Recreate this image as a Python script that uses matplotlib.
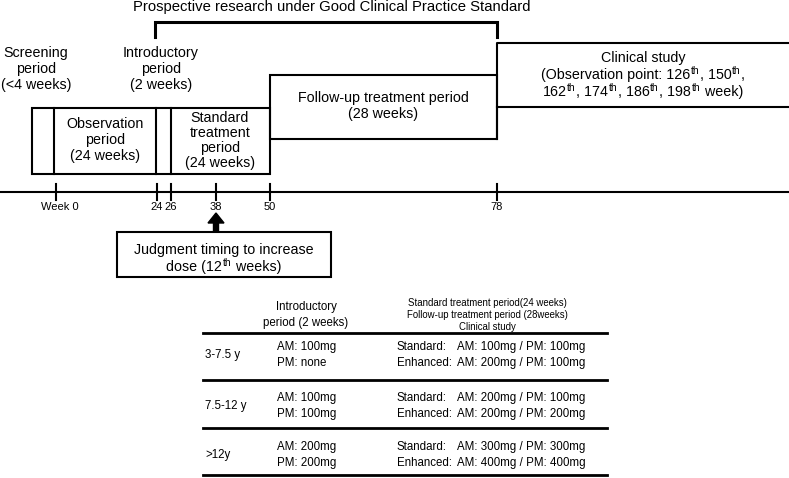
import matplotlib
matplotlib.use("Agg")
import matplotlib.pyplot as plt
from matplotlib.patches import Rectangle

plt.rcParams['font.family'] = ['Liberation Sans', 'DejaVu Sans']

# ---- data ----
tick_labels = ["Week 0", "24", "26", "38", "50", "78"]
tick_x = [56, 157, 171, 216, 270, 497]
label_dx = [4, 0, 0, 0, 0, 0]

title_text = "Prospective research under Good Clinical Practice Standard"
screening_text = "Screening\nperiod\n(<4 weeks)"
intro_text = "Introductory\nperiod\n(2 weeks)"
observation_text = "Observation\nperiod\n(24 weeks)"
standard_text = "Standard\ntreatment\nperiod\n(24 weeks)"
followup_text = "Follow-up treatment period\n(28 weeks)"
# rich lines: list of (text, is_superscript)
clinical_lines = [
    [("Clinical study", False)],
    [("(Observation point: 126", False), ("th", True), (", 150", False), ("th", True), (",", False)],
    [("162", False), ("th", True), (", 174", False), ("th", True), (", 186", False), ("th", True),
     (", 198", False), ("th", True), (" week)", False)],
]
judgment_lines = [
    [("Judgment timing to increase", False)],
    [("dose (12", False), ("th", True), (" weeks)", False)],
]

age_groups = ["3-7.5 y", "7.5-12 y", ">12y"]
intro_am = ["AM: 100mg", "AM: 100mg", "AM: 200mg"]
intro_pm = ["PM: none", "PM: 100mg", "PM: 200mg"]
standard_dose = ["AM: 100mg / PM: 100mg", "AM: 200mg / PM: 100mg", "AM: 300mg / PM: 300mg"]
enhanced_dose = ["AM: 200mg / PM: 100mg", "AM: 200mg / PM: 200mg", "AM: 400mg / PM: 400mg"]
header_intro = "Introductory\nperiod (2 weeks)"
header_treat = "Standard treatment period(24 weeks)\nFollow-up treatment period (28weeks)\nClinical study"

# ---- layout ----
W, H = 789, 478
fig = plt.figure(figsize=(W / 100, H / 100), dpi=100)
ax = fig.add_axes([0, 0, 1, 1])
ax.set_xlim(0, W)
ax.set_ylim(H, 0)
ax.axis("off")
renderer = fig.canvas.get_renderer()

lw = 1.5
FS = 10.3
SUP_FS = 7.5


def rich_line(xc, y_base, parts, fs=FS, sup_fs=SUP_FS, rise=5):
    texts = []
    widths = []
    for s, sup in parts:
        t = ax.text(0, y_base - (rise if sup else 0), s, ha="left", va="baseline",
                    fontsize=sup_fs if sup else fs)
        w = t.get_window_extent(renderer).width
        texts.append(t)
        widths.append(w + (1.0 if sup else 0.0))
    x = xc - sum(widths) / 2
    for (s, sup), t, w in zip(parts, texts, widths):
        t.set_x(x + (0.5 if sup else 0.0))
        x += w


# title and bracket
ax.text(332, 7, title_text, ha="center", va="center", fontsize=10.7)
ax.plot([155, 155, 497, 497], [37, 22, 22, 37], color="black", lw=2.2, solid_joinstyle="miter")

# upper labels
ax.text(36, 69, screening_text, ha="center", va="center", fontsize=FS, linespacing=1.2)
ax.text(161, 69, intro_text, ha="center", va="center", fontsize=FS, linespacing=1.2)

# first box row
ax.add_patch(Rectangle((32, 108), 270 - 32, 66, fill=False, lw=lw, ec="black"))
for xv in [54, 156, 171]:
    ax.plot([xv, xv], [108, 174], color="black", lw=lw)
ax.text(105, 140, observation_text, ha="center", va="center", fontsize=FS, linespacing=1.2)
ax.text(220, 140.5, standard_text, ha="center", va="center", fontsize=FS, linespacing=1.07)

# follow-up box
ax.add_patch(Rectangle((270, 75), 497 - 270, 64, fill=False, lw=lw, ec="black"))
ax.text(383, 106, followup_text, ha="center", va="center", fontsize=FS, linespacing=1.2)

# clinical study
ax.plot([W, 497, 497], [43, 43, 139], color="black", lw=lw)
ax.plot([497, W], [107, 107], color="black", lw=lw)
for yb, parts in zip([62, 79, 96], clinical_lines):
    rich_line(643, yb, parts)

# timeline
ax.plot([0, W], [192, 192], color="black", lw=lw)
for xv, lab, dx in zip(tick_x, tick_labels, label_dx):
    ax.plot([xv, xv], [184, 200], color="black", lw=lw)
    ax.text(xv + dx, 207, lab, ha="center", va="center", fontsize=8)

# arrow
ax.arrow(216, 232, 0, -19, width=5, head_width=16, head_length=10,
         length_includes_head=True, color="black")

# judgment box
ax.add_patch(Rectangle((117, 232), 331 - 117, 45, fill=False, lw=lw, ec="black"))
for yb, parts in zip([254, 271], judgment_lines):
    rich_line(224, yb, parts)

# table
TFS = 8.3
ax.text(306, 315, header_intro, ha="center", va="center", fontsize=TFS, linespacing=1.55)
ax.text(487, 315, header_treat, ha="center", va="center", fontsize=6.9, linespacing=1.2)
for yv in [333, 380, 428, 475]:
    ax.plot([203, 607], [yv, yv], color="black", lw=2.0)

row_am_y = [347, 398, 447]
for i in range(3):
    y1 = row_am_y[i]
    y2 = y1 + 16
    ax.text(205, (y1 + y2) / 2, age_groups[i], ha="left", va="center", fontsize=TFS)
    ax.text(277, y1, intro_am[i], ha="left", va="center", fontsize=TFS)
    ax.text(277, y2, intro_pm[i], ha="left", va="center", fontsize=TFS)
    ax.text(397, y1, "Standard:", ha="left", va="center", fontsize=TFS)
    ax.text(457, y1, standard_dose[i], ha="left", va="center", fontsize=TFS)
    ax.text(397, y2, "Enhanced:", ha="left", va="center", fontsize=TFS)
    ax.text(457, y2, enhanced_dose[i], ha="left", va="center", fontsize=TFS)

fig.savefig("out.png", dpi=100)
